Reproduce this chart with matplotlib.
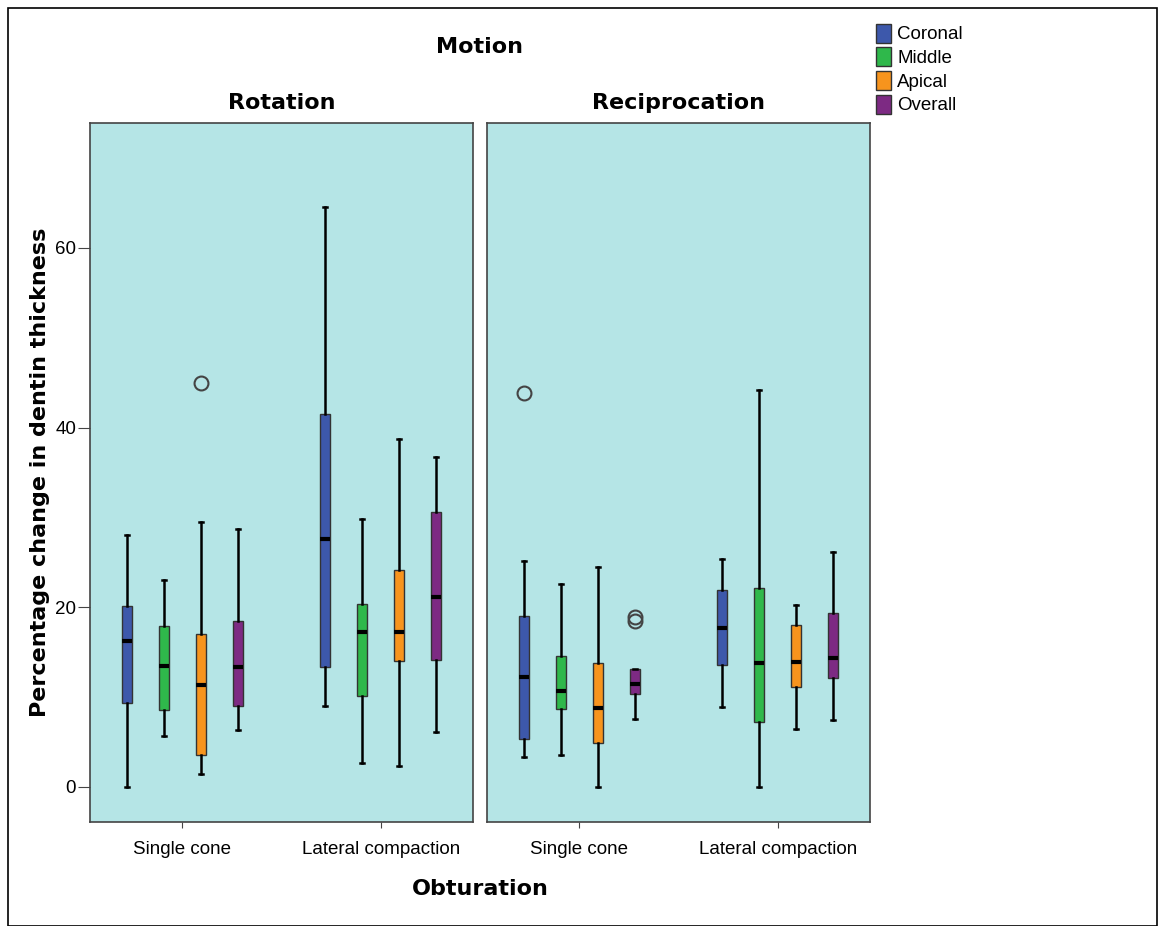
import numpy as np
import matplotlib
matplotlib.use("Agg")
import matplotlib.pyplot as plt
from matplotlib.patches import Patch, Rectangle

plt.rcParams['font.family'] = ['Liberation Sans', 'DejaVu Sans']

# data: (whislo, q1, median, q3, whishi, fliers)
motions = ["Rotation", "Reciprocation"]
obturations = ["Single cone", "Lateral compaction"]
regions = ["Coronal", "Middle", "Apical", "Overall"]
colors = ["#3d58ab", "#2fb84b", "#f7941d", "#7d2a83"]

rot_single = [
    (0.0, 9.3, 16.3, 20.1, 28.0, []),
    (5.7, 8.6, 13.5, 17.9, 23.0, []),
    (1.4, 3.6, 11.4, 17.0, 29.5, [45.0]),
    (6.3, 9.0, 13.3, 18.5, 28.7, []),
]
rot_lateral = [
    (9.0, 13.4, 27.6, 41.5, 64.5, []),
    (2.7, 10.1, 17.3, 20.4, 29.8, []),
    (2.3, 14.0, 17.3, 24.1, 38.7, []),
    (6.1, 14.1, 21.1, 30.6, 36.7, []),
]
rec_single = [
    (3.3, 5.3, 12.2, 19.0, 25.2, [43.9]),
    (3.6, 8.7, 10.7, 14.6, 22.6, []),
    (0.0, 4.9, 8.8, 13.8, 24.5, []),
    (7.6, 10.3, 11.5, 13.1, 13.1, [18.5, 18.9]),
]
rec_lateral = [
    (8.9, 13.6, 17.7, 21.9, 25.4, []),
    (0.0, 7.2, 13.8, 22.2, 44.2, []),
    (6.4, 11.1, 13.9, 18.0, 20.3, []),
    (7.5, 12.1, 14.3, 19.4, 26.2, []),
]
panels = {"Rotation": [rot_single, rot_lateral],
          "Reciprocation": [rec_single, rec_lateral]}

bold = dict(family="DejaVu Sans", fontweight="bold", fontsize=16)

W, H = 1159, 926
fig = plt.figure(figsize=(W / 100, H / 100), dpi=100)
fig.patches.append(Rectangle((8 / W, 0), 1 - 10 / W, 1 - 8 / H, transform=fig.transFigure,
                             fill=False, edgecolor="black", linewidth=1.2))

bg = "#b5e5e6"
offsets = [-0.279, -0.093, 0.093, 0.279]
axes_pos = [[90 / W, 104 / H, 383 / W, 699 / H], [487 / W, 104 / H, 383 / W, 699 / H]]

for k, motion in enumerate(motions):
    ax = fig.add_axes(axes_pos[k])
    ax.set_facecolor(bg)
    for g, groups in enumerate(panels[motion]):
        for r, st in enumerate(groups):
            lo, q1, med, q3, hi, fl = st
            stats = [dict(whislo=lo, q1=q1, med=med, q3=q3, whishi=hi, fliers=fl)]
            ax.bxp(stats, positions=[g + offsets[r]], widths=0.05, patch_artist=True,
                   manage_ticks=False,
                   boxprops=dict(facecolor=colors[r], edgecolor="#333333", linewidth=1.0),
                   medianprops=dict(color="black", linewidth=3),
                   whiskerprops=dict(color="black", linewidth=1.8),
                   capprops=dict(color="black", linewidth=1.8),
                   capwidths=0.02,
                   flierprops=dict(marker="o", markerfacecolor="none",
                                   markeredgecolor="#444444", markersize=10,
                                   markeredgewidth=1.5))
    ax.set_xlim(-0.465, 1.465)
    ax.set_ylim(-3.9, 73.9)
    ax.set_xticks([0, 1])
    ax.set_xticklabels(obturations, fontsize=13.5)
    ax.tick_params(axis="x", length=4, color="#444444", pad=10)
    for s in ax.spines.values():
        s.set_color("#444444")
        s.set_linewidth(1.2)
    ax.set_title(motion, pad=10, **bold)
    if k == 0:
        ax.set_yticks([0, 20, 40, 60])
        ax.tick_params(axis="y", labelsize=13.5, length=9, color="#444444", pad=1)
        ax.set_ylabel("Percentage change in dentin thickness", labelpad=4, **bold)
    else:
        ax.set_yticks([])

fig.text(480 / W, 1 - 47 / H, "Motion", ha="center", va="center", **bold)
fig.text(480 / W, 1 - 889 / H, "Obturation", ha="center", va="center", **bold)

handles = [Patch(facecolor=c, edgecolor="#333333", label=l) for c, l in zip(colors, regions)]
fig.legend(handles=handles, loc="upper left", bbox_to_anchor=(868 / W, 1 - 16 / H),
           frameon=False, fontsize=13.5, handlelength=0.85, handleheight=1.2,
           handletextpad=0.3, labelspacing=0.2, borderaxespad=0)

fig.savefig("out.png", dpi=100)
